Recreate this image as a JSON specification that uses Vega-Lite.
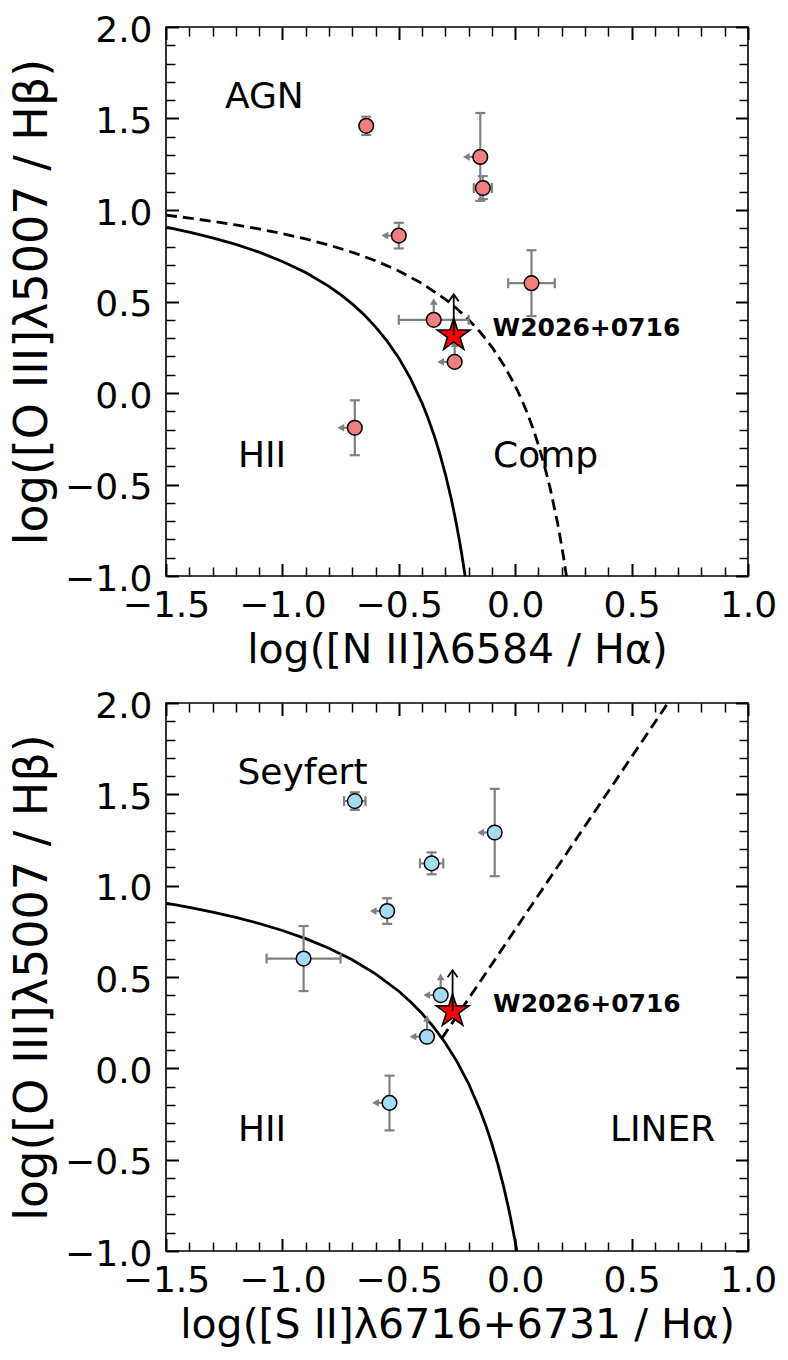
{
  "$schema": "https://vega.github.io/schema/vega-lite/v6.json",
  "background": "white",
  "padding": {"left": 8, "top": 11, "right": 5, "bottom": 5},
  "spacing": 15,
  "datasets": {
    "kauff": [
      {"x": -1.5, "y": 0.9065}, {"x": -1.4, "y": 0.8793}, {"x": -1.3, "y": 0.8481}, {"x": -1.2, "y": 0.812},
      {"x": -1.1, "y": 0.7696}, {"x": -1.0, "y": 0.719}, {"x": -0.9, "y": 0.6579}, {"x": -0.8, "y": 0.5824},
      {"x": -0.75, "y": 0.5375}, {"x": -0.7, "y": 0.4867}, {"x": -0.65, "y": 0.4286}, {"x": -0.6, "y": 0.3615},
      {"x": -0.55, "y": 0.2833}, {"x": -0.5, "y": 0.1909}, {"x": -0.45, "y": 0.08}, {"x": -0.4, "y": -0.0556},
      {"x": -0.375, "y": -0.1353}, {"x": -0.35, "y": -0.225}, {"x": -0.325, "y": -0.3267}, {"x": -0.3, "y": -0.4429},
      {"x": -0.275, "y": -0.5769}, {"x": -0.26, "y": -0.6677}, {"x": -0.25, "y": -0.7333}, {"x": -0.24, "y": -0.8034},
      {"x": -0.23, "y": -0.8786}, {"x": -0.22, "y": -0.9593}, {"x": -0.2152, "y": -1.0}
    ],
    "kew_n2": [
      {"x": -1.5, "y": 0.9719}, {"x": -1.4, "y": 0.956}, {"x": -1.3, "y": 0.9383}, {"x": -1.2, "y": 0.9185},
      {"x": -1.1, "y": 0.8962}, {"x": -1.0, "y": 0.8709}, {"x": -0.9, "y": 0.8419}, {"x": -0.8, "y": 0.8084},
      {"x": -0.7, "y": 0.7693}, {"x": -0.6, "y": 0.7228}, {"x": -0.5, "y": 0.667}, {"x": -0.4, "y": 0.5984},
      {"x": -0.3, "y": 0.5123}, {"x": -0.25, "y": 0.4603}, {"x": -0.2, "y": 0.4008}, {"x": -0.15, "y": 0.3319},
      {"x": -0.1, "y": 0.251}, {"x": -0.05, "y": 0.155}, {"x": 0.0, "y": 0.0389}, {"x": 0.025, "y": -0.0286},
      {"x": 0.05, "y": -0.104}, {"x": 0.075, "y": -0.1887}, {"x": 0.1, "y": -0.2845}, {"x": 0.125, "y": -0.3938},
      {"x": 0.15, "y": -0.5196}, {"x": 0.18, "y": -0.6981}, {"x": 0.19, "y": -0.7658}, {"x": 0.2, "y": -0.8383},
      {"x": 0.21, "y": -0.9162}, {"x": 0.22, "y": -1.0}
    ],
    "kew_s2": [
      {"x": -1.5, "y": 0.9044}, {"x": -1.4, "y": 0.8814}, {"x": -1.3, "y": 0.8556}, {"x": -1.2, "y": 0.8263},
      {"x": -1.1, "y": 0.793}, {"x": -1.0, "y": 0.7545}, {"x": -0.9, "y": 0.7098}, {"x": -0.8, "y": 0.6571},
      {"x": -0.7, "y": 0.5941}, {"x": -0.6, "y": 0.5174}, {"x": -0.5, "y": 0.422}, {"x": -0.45, "y": 0.3649},
      {"x": -0.4, "y": 0.3}, {"x": -0.35, "y": 0.2254}, {"x": -0.3, "y": 0.1387}, {"x": -0.25, "y": 0.0368},
      {"x": -0.2, "y": -0.0846}, {"x": -0.15, "y": -0.2319}, {"x": -0.125, "y": -0.318}, {"x": -0.1, "y": -0.4143},
      {"x": -0.075, "y": -0.5228}, {"x": -0.05, "y": -0.6459}, {"x": -0.03, "y": -0.7571}, {"x": -0.02, "y": -0.8176},
      {"x": -0.01, "y": -0.8818}, {"x": 0.0, "y": -0.95}, {"x": 0.007, "y": -1.0}
    ],
    "seyliner": [{"x": -0.3146, "y": 0.165}, {"x": 0.6561, "y": 2.0}],
    "n2": [
      {"x": -0.64, "y": 1.46, "ylo": 1.41, "yhi": 1.51},
      {"x": -0.15, "y": 1.29, "ylo": 1.05, "yhi": 1.53, "xlim": -0.21},
      {"x": -0.139, "y": 1.12, "xlo": -0.178, "xhi": -0.1, "ylo": 1.06, "yhi": 1.185},
      {"x": -0.5, "y": 0.86, "ylo": 0.79, "yhi": 0.93, "xlim": -0.56},
      {"x": 0.07, "y": 0.6, "xlo": -0.03, "xhi": 0.17, "ylo": 0.42, "yhi": 0.78},
      {"x": -0.35, "y": 0.4, "xlo": -0.5, "xhi": -0.2, "ylim": 0.5},
      {"x": -0.26, "y": 0.17, "xlim": -0.32, "ylim": 0.27},
      {"x": -0.689, "y": -0.19, "ylo": -0.34, "yhi": -0.04, "xlim": -0.749}
    ],
    "s2": [
      {"x": -0.689, "y": 1.463, "xlo": -0.735, "xhi": -0.643, "ylo": 1.415, "yhi": 1.511},
      {"x": -0.088, "y": 1.291, "ylo": 1.052, "yhi": 1.53, "xlim": -0.148},
      {"x": -0.359, "y": 1.122, "xlo": -0.409, "xhi": -0.309, "ylo": 1.062, "yhi": 1.182},
      {"x": -0.55, "y": 0.861, "ylo": 0.791, "yhi": 0.931, "xlim": -0.61},
      {"x": -0.909, "y": 0.601, "xlo": -1.068, "xhi": -0.75, "ylo": 0.423, "yhi": 0.779},
      {"x": -0.32, "y": 0.401, "xlim": -0.38, "ylim": 0.501},
      {"x": -0.379, "y": 0.173, "xlim": -0.439, "ylim": 0.273},
      {"x": -0.54, "y": -0.189, "ylo": -0.34, "yhi": -0.04, "xlim": -0.6}
    ],
    "star_n2": [{"x": -0.264, "y": 0.315, "ytip": 0.539}],
    "star_s2": [{"x": -0.269, "y": 0.313, "ytip": 0.537}],
    "lab_n2": [
      {"x": -1.247, "y": 1.557, "text": "AGN"},
      {"x": -1.191, "y": -0.404, "text": "HII"},
      {"x": -0.095, "y": -0.404, "text": "Comp"}
    ],
    "lab_s2": [
      {"x": -1.193, "y": 1.555, "text": "Seyfert"},
      {"x": -1.191, "y": -0.4, "text": "HII"},
      {"x": 0.407, "y": -0.4, "text": "LINER"}
    ],
    "name_n2": [{"x": -0.097, "y": 0.3115, "text": "W2026+0716"}],
    "name_s2": [{"x": -0.095, "y": 0.311, "text": "W2026+0716"}]
  },
  "vconcat": [
    {
      "width": 582,
      "height": 549,
      "layer": [
        {
          "data": {"name": "kauff"},
          "mark": {"type": "line", "color": "black", "strokeWidth": 2.8},
          "encoding": {
            "x": {"field": "x", "type": "quantitative", "scale": {"domain": [-1.5, 1], "nice": false},
              "axis": {"orient": "bottom", "values": [-1.5, -1, -0.5, 0, 0.5, 1], "format": ".1f", "tickSize": -12.5, "tickWidth": 2, "labelPadding": 25.3, "title": "log([N II]λ6584 / Hα)", "titlePadding": 7}},
            "y": {"field": "y", "type": "quantitative", "scale": {"domain": [-1, 2], "nice": false},
              "axis": {"orient": "left", "values": [-1, -0.5, 0, 0.5, 1, 1.5, 2], "format": ".1f", "tickSize": -12.5, "tickWidth": 2, "labelPadding": 26.5, "labelOffset": 3, "title": "log([O III]λ5007 / Hβ)", "titleFontSize": 46, "titlePadding": 8}}
          }
        },
        {
          "data": {"name": "kew_n2"},
          "mark": {"type": "line", "color": "black", "strokeWidth": 2.8, "strokeDash": [11, 6]},
          "encoding": {
            "x": {"field": "x", "type": "quantitative", "scale": {"domain": [-1.5, 1], "nice": false},
              "axis": {"orient": "top", "values": [-1.5, -1, -0.5, 0, 0.5, 1], "tickSize": -12.5, "tickWidth": 2, "labels": false, "title": null}},
            "y": {"field": "y", "type": "quantitative", "scale": {"domain": [-1, 2], "nice": false},
              "axis": {"orient": "right", "values": [-1, -0.5, 0, 0.5, 1, 1.5, 2], "tickSize": -12.5, "tickWidth": 2, "labels": false, "title": null}}
          }
        },
        {
          "data": {"name": "n2"},
          "transform": [{"filter": "isValid(datum.xlo)"}],
          "mark": {"type": "rule", "color": "gray", "strokeWidth": 2.2},
          "encoding": {
            "x": {"field": "xlo", "type": "quantitative", "scale": {"domain": [-1.5, 1], "nice": false},
              "axis": {"orient": "bottom", "values": [-1.4, -1.3, -1.2, -1.1, -0.9, -0.8, -0.7, -0.6, -0.4, -0.3, -0.2, -0.1, 0.1, 0.2, 0.3, 0.4, 0.6, 0.7, 0.8, 0.9], "tickSize": -9, "tickWidth": 1.5, "labels": false, "title": null}},
            "x2": {"field": "xhi"},
            "y": {"field": "y", "type": "quantitative", "scale": {"domain": [-1, 2], "nice": false},
              "axis": {"orient": "left", "values": [-0.9, -0.8, -0.7, -0.6, -0.4, -0.3, -0.2, -0.1, 0.1, 0.2, 0.3, 0.4, 0.6, 0.7, 0.8, 0.9, 1.1, 1.2, 1.3, 1.4, 1.6, 1.7, 1.8, 1.9], "tickSize": -9, "tickWidth": 1.5, "labels": false, "title": null}}
          }
        },
        {
          "data": {"name": "n2"},
          "transform": [{"filter": "isValid(datum.ylo)"}],
          "mark": {"type": "rule", "color": "gray", "strokeWidth": 2.2},
          "encoding": {
            "x": {"field": "x", "type": "quantitative", "scale": {"domain": [-1.5, 1], "nice": false},
              "axis": {"orient": "top", "values": [-1.4, -1.3, -1.2, -1.1, -0.9, -0.8, -0.7, -0.6, -0.4, -0.3, -0.2, -0.1, 0.1, 0.2, 0.3, 0.4, 0.6, 0.7, 0.8, 0.9], "tickSize": -9, "tickWidth": 1.5, "labels": false, "title": null}},
            "y": {"field": "ylo", "type": "quantitative", "scale": {"domain": [-1, 2], "nice": false},
              "axis": {"orient": "right", "values": [-0.9, -0.8, -0.7, -0.6, -0.4, -0.3, -0.2, -0.1, 0.1, 0.2, 0.3, 0.4, 0.6, 0.7, 0.8, 0.9, 1.1, 1.2, 1.3, 1.4, 1.6, 1.7, 1.8, 1.9], "tickSize": -9, "tickWidth": 1.5, "labels": false, "title": null}},
            "y2": {"field": "yhi"}
          }
        },
        {
          "data": {"name": "n2"},
          "transform": [{"filter": "isValid(datum.xlo)"}, {"fold": ["xlo", "xhi"], "as": ["k", "xc"]}],
          "mark": {"type": "tick", "orient": "vertical", "color": "gray", "size": 10, "thickness": 2.2, "opacity": 1},
          "encoding": {
            "x": {"field": "xc", "type": "quantitative", "scale": {"domain": [-1.5, 1], "nice": false}, "axis": null},
            "y": {"field": "y", "type": "quantitative", "scale": {"domain": [-1, 2], "nice": false}, "axis": null}
          }
        },
        {
          "data": {"name": "n2"},
          "transform": [{"filter": "isValid(datum.ylo)"}, {"fold": ["ylo", "yhi"], "as": ["k", "yc"]}],
          "mark": {"type": "tick", "orient": "horizontal", "color": "gray", "size": 10, "thickness": 2.2, "opacity": 1},
          "encoding": {
            "x": {"field": "x", "type": "quantitative", "scale": {"domain": [-1.5, 1], "nice": false}, "axis": null},
            "y": {"field": "yc", "type": "quantitative", "scale": {"domain": [-1, 2], "nice": false}, "axis": null}
          }
        },
        {
          "data": {"name": "n2"},
          "transform": [{"filter": "isValid(datum.xlim)"}],
          "mark": {"type": "rule", "color": "gray", "strokeWidth": 2.2},
          "encoding": {
            "x": {"field": "x", "type": "quantitative", "scale": {"domain": [-1.5, 1], "nice": false}, "axis": null},
            "x2": {"field": "xlim"},
            "y": {"field": "y", "type": "quantitative", "scale": {"domain": [-1, 2], "nice": false}, "axis": null}
          }
        },
        {
          "data": {"name": "n2"},
          "transform": [{"filter": "isValid(datum.xlim)"}],
          "mark": {"type": "point", "shape": "triangle-left", "filled": true, "color": "gray", "size": 60, "opacity": 1, "strokeWidth": 0},
          "encoding": {
            "x": {"field": "xlim", "type": "quantitative", "scale": {"domain": [-1.5, 1], "nice": false}, "axis": null},
            "y": {"field": "y", "type": "quantitative", "scale": {"domain": [-1, 2], "nice": false}, "axis": null}
          }
        },
        {
          "data": {"name": "n2"},
          "transform": [{"filter": "isValid(datum.ylim)"}],
          "mark": {"type": "rule", "color": "gray", "strokeWidth": 2.2},
          "encoding": {
            "x": {"field": "x", "type": "quantitative", "scale": {"domain": [-1.5, 1], "nice": false}, "axis": null},
            "y": {"field": "y", "type": "quantitative", "scale": {"domain": [-1, 2], "nice": false}, "axis": null},
            "y2": {"field": "ylim"}
          }
        },
        {
          "data": {"name": "n2"},
          "transform": [{"filter": "isValid(datum.ylim)"}],
          "mark": {"type": "point", "shape": "triangle-up", "filled": true, "color": "gray", "size": 60, "opacity": 1, "strokeWidth": 0},
          "encoding": {
            "x": {"field": "x", "type": "quantitative", "scale": {"domain": [-1.5, 1], "nice": false}, "axis": null},
            "y": {"field": "ylim", "type": "quantitative", "scale": {"domain": [-1, 2], "nice": false}, "axis": null}
          }
        },
        {
          "data": {"name": "n2"},
          "mark": {"type": "circle", "size": 215, "fill": "#f08080", "stroke": "black", "strokeWidth": 1.5, "opacity": 1},
          "encoding": {
            "x": {"field": "x", "type": "quantitative", "scale": {"domain": [-1.5, 1], "nice": false}, "axis": null},
            "y": {"field": "y", "type": "quantitative", "scale": {"domain": [-1, 2], "nice": false}, "axis": null}
          }
        },
        {
          "data": {"name": "star_n2"},
          "mark": {"type": "point", "shape": "M0,-1L0.2245,-0.309L0.9511,-0.309L0.3633,0.118L0.5878,0.809L0,0.382L-0.5878,0.809L-0.3633,0.118L-0.9511,-0.309L-0.2245,-0.309Z", "size": 1190, "filled": true, "fill": "#ff0000", "stroke": "black", "strokeWidth": 1.6, "opacity": 1},
          "encoding": {
            "x": {"field": "x", "type": "quantitative", "scale": {"domain": [-1.5, 1], "nice": false}, "axis": null},
            "y": {"field": "y", "type": "quantitative", "scale": {"domain": [-1, 2], "nice": false}, "axis": null}
          }
        },
        {
          "data": {"name": "star_n2"},
          "mark": {"type": "rule", "color": "black", "strokeWidth": 1.8},
          "encoding": {
            "x": {"field": "x", "type": "quantitative", "scale": {"domain": [-1.5, 1], "nice": false}, "axis": null},
            "y": {"field": "y", "type": "quantitative", "scale": {"domain": [-1, 2], "nice": false}, "axis": null},
            "y2": {"field": "ytip"}
          }
        },
        {
          "data": {"name": "star_n2"},
          "mark": {"type": "point", "shape": "M-1,1.4L0,0L1,1.4", "size": 100, "filled": false, "stroke": "black", "strokeWidth": 1.8, "opacity": 1},
          "encoding": {
            "x": {"field": "x", "type": "quantitative", "scale": {"domain": [-1.5, 1], "nice": false}, "axis": null},
            "y": {"field": "ytip", "type": "quantitative", "scale": {"domain": [-1, 2], "nice": false}, "axis": null}
          }
        },
        {
          "data": {"name": "lab_n2"},
          "mark": {"type": "text", "align": "left", "baseline": "alphabetic", "fontSize": 36, "font": "DejaVu Sans", "color": "black"},
          "encoding": {
            "x": {"field": "x", "type": "quantitative", "scale": {"domain": [-1.5, 1], "nice": false}, "axis": null},
            "y": {"field": "y", "type": "quantitative", "scale": {"domain": [-1, 2], "nice": false}, "axis": null},
            "text": {"field": "text"}
          }
        },
        {
          "data": {"name": "name_n2"},
          "mark": {"type": "text", "align": "left", "baseline": "alphabetic", "fontSize": 25, "fontWeight": "bold", "font": "DejaVu Sans", "color": "black"},
          "encoding": {
            "x": {"field": "x", "type": "quantitative", "scale": {"domain": [-1.5, 1], "nice": false}, "axis": null},
            "y": {"field": "y", "type": "quantitative", "scale": {"domain": [-1, 2], "nice": false}, "axis": null},
            "text": {"field": "text"}
          }
        }
      ],
      "resolve": {"axis": {"x": "independent", "y": "independent"}}
    },
    {
      "width": 582,
      "height": 548,
      "layer": [
        {
          "data": {"name": "kew_s2"},
          "mark": {"type": "line", "color": "black", "strokeWidth": 2.8},
          "encoding": {
            "x": {"field": "x", "type": "quantitative", "scale": {"domain": [-1.5, 1], "nice": false},
              "axis": {"orient": "bottom", "values": [-1.5, -1, -0.5, 0, 0.5, 1], "format": ".1f", "tickSize": -12.5, "tickWidth": 2, "labelPadding": 25.3, "title": "log([S II]λ6716+6731 / Hα)", "titlePadding": 7}},
            "y": {"field": "y", "type": "quantitative", "scale": {"domain": [-1, 2], "nice": false},
              "axis": {"orient": "left", "values": [-1, -0.5, 0, 0.5, 1, 1.5, 2], "format": ".1f", "tickSize": -12.5, "tickWidth": 2, "labelPadding": 26.5, "labelOffset": 3, "title": "log([O III]λ5007 / Hβ)", "titleFontSize": 46, "titlePadding": 8}}
          }
        },
        {
          "data": {"name": "seyliner"},
          "mark": {"type": "line", "color": "black", "strokeWidth": 2.8, "strokeDash": [11, 6]},
          "encoding": {
            "x": {"field": "x", "type": "quantitative", "scale": {"domain": [-1.5, 1], "nice": false},
              "axis": {"orient": "top", "values": [-1.5, -1, -0.5, 0, 0.5, 1], "tickSize": -12.5, "tickWidth": 2, "labels": false, "title": null}},
            "y": {"field": "y", "type": "quantitative", "scale": {"domain": [-1, 2], "nice": false},
              "axis": {"orient": "right", "values": [-1, -0.5, 0, 0.5, 1, 1.5, 2], "tickSize": -12.5, "tickWidth": 2, "labels": false, "title": null}}
          }
        },
        {
          "data": {"name": "s2"},
          "transform": [{"filter": "isValid(datum.xlo)"}],
          "mark": {"type": "rule", "color": "gray", "strokeWidth": 2.2},
          "encoding": {
            "x": {"field": "xlo", "type": "quantitative", "scale": {"domain": [-1.5, 1], "nice": false},
              "axis": {"orient": "bottom", "values": [-1.4, -1.3, -1.2, -1.1, -0.9, -0.8, -0.7, -0.6, -0.4, -0.3, -0.2, -0.1, 0.1, 0.2, 0.3, 0.4, 0.6, 0.7, 0.8, 0.9], "tickSize": -9, "tickWidth": 1.5, "labels": false, "title": null}},
            "x2": {"field": "xhi"},
            "y": {"field": "y", "type": "quantitative", "scale": {"domain": [-1, 2], "nice": false},
              "axis": {"orient": "left", "values": [-0.9, -0.8, -0.7, -0.6, -0.4, -0.3, -0.2, -0.1, 0.1, 0.2, 0.3, 0.4, 0.6, 0.7, 0.8, 0.9, 1.1, 1.2, 1.3, 1.4, 1.6, 1.7, 1.8, 1.9], "tickSize": -9, "tickWidth": 1.5, "labels": false, "title": null}}
          }
        },
        {
          "data": {"name": "s2"},
          "transform": [{"filter": "isValid(datum.ylo)"}],
          "mark": {"type": "rule", "color": "gray", "strokeWidth": 2.2},
          "encoding": {
            "x": {"field": "x", "type": "quantitative", "scale": {"domain": [-1.5, 1], "nice": false},
              "axis": {"orient": "top", "values": [-1.4, -1.3, -1.2, -1.1, -0.9, -0.8, -0.7, -0.6, -0.4, -0.3, -0.2, -0.1, 0.1, 0.2, 0.3, 0.4, 0.6, 0.7, 0.8, 0.9], "tickSize": -9, "tickWidth": 1.5, "labels": false, "title": null}},
            "y": {"field": "ylo", "type": "quantitative", "scale": {"domain": [-1, 2], "nice": false},
              "axis": {"orient": "right", "values": [-0.9, -0.8, -0.7, -0.6, -0.4, -0.3, -0.2, -0.1, 0.1, 0.2, 0.3, 0.4, 0.6, 0.7, 0.8, 0.9, 1.1, 1.2, 1.3, 1.4, 1.6, 1.7, 1.8, 1.9], "tickSize": -9, "tickWidth": 1.5, "labels": false, "title": null}},
            "y2": {"field": "yhi"}
          }
        },
        {
          "data": {"name": "s2"},
          "transform": [{"filter": "isValid(datum.xlo)"}, {"fold": ["xlo", "xhi"], "as": ["k", "xc"]}],
          "mark": {"type": "tick", "orient": "vertical", "color": "gray", "size": 10, "thickness": 2.2, "opacity": 1},
          "encoding": {
            "x": {"field": "xc", "type": "quantitative", "scale": {"domain": [-1.5, 1], "nice": false}, "axis": null},
            "y": {"field": "y", "type": "quantitative", "scale": {"domain": [-1, 2], "nice": false}, "axis": null}
          }
        },
        {
          "data": {"name": "s2"},
          "transform": [{"filter": "isValid(datum.ylo)"}, {"fold": ["ylo", "yhi"], "as": ["k", "yc"]}],
          "mark": {"type": "tick", "orient": "horizontal", "color": "gray", "size": 10, "thickness": 2.2, "opacity": 1},
          "encoding": {
            "x": {"field": "x", "type": "quantitative", "scale": {"domain": [-1.5, 1], "nice": false}, "axis": null},
            "y": {"field": "yc", "type": "quantitative", "scale": {"domain": [-1, 2], "nice": false}, "axis": null}
          }
        },
        {
          "data": {"name": "s2"},
          "transform": [{"filter": "isValid(datum.xlim)"}],
          "mark": {"type": "rule", "color": "gray", "strokeWidth": 2.2},
          "encoding": {
            "x": {"field": "x", "type": "quantitative", "scale": {"domain": [-1.5, 1], "nice": false}, "axis": null},
            "x2": {"field": "xlim"},
            "y": {"field": "y", "type": "quantitative", "scale": {"domain": [-1, 2], "nice": false}, "axis": null}
          }
        },
        {
          "data": {"name": "s2"},
          "transform": [{"filter": "isValid(datum.xlim)"}],
          "mark": {"type": "point", "shape": "triangle-left", "filled": true, "color": "gray", "size": 60, "opacity": 1, "strokeWidth": 0},
          "encoding": {
            "x": {"field": "xlim", "type": "quantitative", "scale": {"domain": [-1.5, 1], "nice": false}, "axis": null},
            "y": {"field": "y", "type": "quantitative", "scale": {"domain": [-1, 2], "nice": false}, "axis": null}
          }
        },
        {
          "data": {"name": "s2"},
          "transform": [{"filter": "isValid(datum.ylim)"}],
          "mark": {"type": "rule", "color": "gray", "strokeWidth": 2.2},
          "encoding": {
            "x": {"field": "x", "type": "quantitative", "scale": {"domain": [-1.5, 1], "nice": false}, "axis": null},
            "y": {"field": "y", "type": "quantitative", "scale": {"domain": [-1, 2], "nice": false}, "axis": null},
            "y2": {"field": "ylim"}
          }
        },
        {
          "data": {"name": "s2"},
          "transform": [{"filter": "isValid(datum.ylim)"}],
          "mark": {"type": "point", "shape": "triangle-up", "filled": true, "color": "gray", "size": 60, "opacity": 1, "strokeWidth": 0},
          "encoding": {
            "x": {"field": "x", "type": "quantitative", "scale": {"domain": [-1.5, 1], "nice": false}, "axis": null},
            "y": {"field": "ylim", "type": "quantitative", "scale": {"domain": [-1, 2], "nice": false}, "axis": null}
          }
        },
        {
          "data": {"name": "s2"},
          "mark": {"type": "circle", "size": 215, "fill": "#a5daf5", "stroke": "black", "strokeWidth": 1.5, "opacity": 1},
          "encoding": {
            "x": {"field": "x", "type": "quantitative", "scale": {"domain": [-1.5, 1], "nice": false}, "axis": null},
            "y": {"field": "y", "type": "quantitative", "scale": {"domain": [-1, 2], "nice": false}, "axis": null}
          }
        },
        {
          "data": {"name": "star_s2"},
          "mark": {"type": "point", "shape": "M0,-1L0.2245,-0.309L0.9511,-0.309L0.3633,0.118L0.5878,0.809L0,0.382L-0.5878,0.809L-0.3633,0.118L-0.9511,-0.309L-0.2245,-0.309Z", "size": 1190, "filled": true, "fill": "#ff0000", "stroke": "black", "strokeWidth": 1.6, "opacity": 1},
          "encoding": {
            "x": {"field": "x", "type": "quantitative", "scale": {"domain": [-1.5, 1], "nice": false}, "axis": null},
            "y": {"field": "y", "type": "quantitative", "scale": {"domain": [-1, 2], "nice": false}, "axis": null}
          }
        },
        {
          "data": {"name": "star_s2"},
          "mark": {"type": "rule", "color": "black", "strokeWidth": 1.8},
          "encoding": {
            "x": {"field": "x", "type": "quantitative", "scale": {"domain": [-1.5, 1], "nice": false}, "axis": null},
            "y": {"field": "y", "type": "quantitative", "scale": {"domain": [-1, 2], "nice": false}, "axis": null},
            "y2": {"field": "ytip"}
          }
        },
        {
          "data": {"name": "star_s2"},
          "mark": {"type": "point", "shape": "M-1,1.4L0,0L1,1.4", "size": 100, "filled": false, "stroke": "black", "strokeWidth": 1.8, "opacity": 1},
          "encoding": {
            "x": {"field": "x", "type": "quantitative", "scale": {"domain": [-1.5, 1], "nice": false}, "axis": null},
            "y": {"field": "ytip", "type": "quantitative", "scale": {"domain": [-1, 2], "nice": false}, "axis": null}
          }
        },
        {
          "data": {"name": "lab_s2"},
          "mark": {"type": "text", "align": "left", "baseline": "alphabetic", "fontSize": 36, "font": "DejaVu Sans", "color": "black"},
          "encoding": {
            "x": {"field": "x", "type": "quantitative", "scale": {"domain": [-1.5, 1], "nice": false}, "axis": null},
            "y": {"field": "y", "type": "quantitative", "scale": {"domain": [-1, 2], "nice": false}, "axis": null},
            "text": {"field": "text"}
          }
        },
        {
          "data": {"name": "name_s2"},
          "mark": {"type": "text", "align": "left", "baseline": "alphabetic", "fontSize": 25, "fontWeight": "bold", "font": "DejaVu Sans", "color": "black"},
          "encoding": {
            "x": {"field": "x", "type": "quantitative", "scale": {"domain": [-1.5, 1], "nice": false}, "axis": null},
            "y": {"field": "y", "type": "quantitative", "scale": {"domain": [-1, 2], "nice": false}, "axis": null},
            "text": {"field": "text"}
          }
        }
      ],
      "resolve": {"axis": {"x": "independent", "y": "independent"}}
    }
  ],
  "config": {
    "view": {"stroke": "black", "strokeWidth": 1.6},
    "axis": {"grid": false, "domain": false, "labelFont": "DejaVu Sans", "labelFontSize": 36, "labelColor": "black", "titleFont": "DejaVu Sans", "titleFontSize": 41, "titleFontWeight": "normal", "titleColor": "black", "tickColor": "black", "labelOverlap": false, "labelFlush": false},
    "text": {"font": "DejaVu Sans"}
  }
}
